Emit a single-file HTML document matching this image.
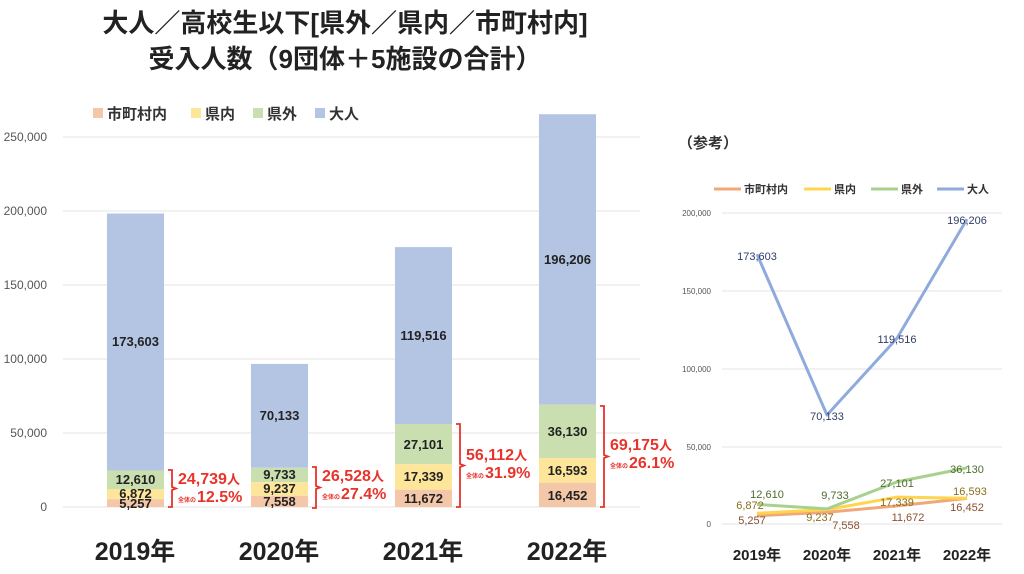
<!DOCTYPE html>
<html><head><meta charset="utf-8"><style>
body{margin:0;background:#fff;}
svg{display:block;font-family:"Liberation Sans","Noto Sans CJK JP",sans-serif;}
</style></head><body>
<svg width="1024" height="574" viewBox="0 0 1024 574">
<text x="345" y="32" text-anchor="middle" font-size="26" font-weight="bold" fill="#222">大人／高校生以下[県外／県内／市町村内]</text>
<text x="345" y="68" text-anchor="middle" font-size="26" font-weight="bold" fill="#222">受入人数（9団体＋5施設の合計）</text>
<!-- left legend -->
<g font-size="15" font-weight="bold" fill="#333">
<rect x="93" y="108" width="10" height="10" fill="#f4c7a8"/><text x="107" y="119">市町村内</text>
<rect x="191" y="108" width="10" height="10" fill="#fde69a"/><text x="205" y="119">県内</text>
<rect x="253" y="108" width="10" height="10" fill="#c9dfb0"/><text x="267" y="119">県外</text>
<rect x="315" y="108" width="10" height="10" fill="#b4c5e4"/><text x="329" y="119">大人</text>
</g>
<!-- left grid -->
<g stroke="#e3e3e3" stroke-width="1">
<line x1="63" x2="640" y1="137" y2="137"/><line x1="63" x2="640" y1="211" y2="211"/><line x1="63" x2="640" y1="285" y2="285"/><line x1="63" x2="640" y1="359" y2="359"/><line x1="63" x2="640" y1="433" y2="433"/><line x1="63" x2="640" y1="507" y2="507"/>
</g>
<g font-size="12" fill="#555" text-anchor="end">
<text x="47" y="141">250,000</text><text x="47" y="215">200,000</text><text x="47" y="289">150,000</text><text x="47" y="363">100,000</text><text x="47" y="437">50,000</text><text x="47" y="511">0</text>
</g>
<!-- bars -->
<g>
<rect x="107" y="213.5" width="57" height="257" fill="#b4c5e4"/><rect x="107" y="470.4" width="57" height="18.6" fill="#c9dfb0"/><rect x="107" y="489" width="57" height="10.2" fill="#fde69a"/><rect x="107" y="499.2" width="57" height="7.8" fill="#f4c7a8"/>
<rect x="251" y="363.9" width="57" height="103.8" fill="#b4c5e4"/><rect x="251" y="467.7" width="57" height="14.4" fill="#c9dfb0"/><rect x="251" y="482.1" width="57" height="13.7" fill="#fde69a"/><rect x="251" y="495.8" width="57" height="11.2" fill="#f4c7a8"/>
<rect x="395" y="247.1" width="57" height="176.9" fill="#b4c5e4"/><rect x="395" y="424" width="57" height="40.1" fill="#c9dfb0"/><rect x="395" y="464.1" width="57" height="25.6" fill="#fde69a"/><rect x="395" y="489.7" width="57" height="17.3" fill="#f4c7a8"/>
<rect x="539" y="114.2" width="57" height="290.4" fill="#b4c5e4"/><rect x="539" y="404.6" width="57" height="53.5" fill="#c9dfb0"/><rect x="539" y="458.1" width="57" height="24.6" fill="#fde69a"/><rect x="539" y="482.7" width="57" height="24.3" fill="#f4c7a8"/>
</g>
<g font-size="13" font-weight="bold" fill="#222" text-anchor="middle">
<text x="135.5" y="346">173,603</text><text x="135.5" y="484">12,610</text><text x="135.5" y="498">6,872</text><text x="135.5" y="508">5,257</text>
<text x="279.5" y="420">70,133</text><text x="279.5" y="479">9,733</text><text x="279.5" y="493">9,237</text><text x="279.5" y="506">7,558</text>
<text x="423.5" y="340">119,516</text><text x="423.5" y="449">27,101</text><text x="423.5" y="481">17,339</text><text x="423.5" y="503">11,672</text>
<text x="567.5" y="264">196,206</text><text x="567.5" y="436">36,130</text><text x="567.5" y="475">16,593</text><text x="567.5" y="500">16,452</text>
</g>
<!-- brackets -->
<g fill="none" stroke="#e8332b" stroke-width="1.8">
<path d="M168,470 h4 v17 l4,1.5 l-4,1.5 v17 h-4"/>
<path d="M312,467 h4 v19 l4,1.5 l-4,1.5 v19 h-4"/>
<path d="M456,424 h4 v40 l4,1.5 l-4,1.5 v40 h-4"/>
<path d="M600,406 h4 v49 l4,1.5 l-4,1.5 v49 h-4"/>
</g>
<g fill="#e8332b" font-weight="bold">
<text x="178" y="484" font-size="16">24,739<tspan font-size="13">人</tspan></text>
<text x="178" y="502" font-size="6">全体の</text><text x="197" y="502" font-size="16">12.5%</text>
<text x="322" y="481" font-size="16">26,528<tspan font-size="13">人</tspan></text>
<text x="322" y="499" font-size="6">全体の</text><text x="341" y="499" font-size="16">27.4%</text>
<text x="466" y="460" font-size="16">56,112<tspan font-size="13">人</tspan></text>
<text x="466" y="478" font-size="6">全体の</text><text x="485" y="478" font-size="16">31.9%</text>
<text x="610" y="450" font-size="16">69,175<tspan font-size="13">人</tspan></text>
<text x="610" y="468" font-size="6">全体の</text><text x="629" y="468" font-size="16">26.1%</text>
</g>
<g font-size="25" font-weight="bold" fill="#222" text-anchor="middle">
<text x="135" y="560">2019年</text><text x="279" y="560">2020年</text><text x="423" y="560">2021年</text><text x="567" y="560">2022年</text>
</g>
<!-- right chart -->
<text x="678" y="148" font-size="15" font-weight="bold" fill="#333">（参考）</text>
<g font-size="11" font-weight="bold" fill="#333">
<line x1="714" x2="741" y1="189" y2="189" stroke="#f0a878" stroke-width="3"/><text x="744" y="193">市町村内</text>
<line x1="804" x2="831" y1="189" y2="189" stroke="#ffd54f" stroke-width="3"/><text x="834" y="193">県内</text>
<line x1="871" x2="898" y1="189" y2="189" stroke="#a9d18e" stroke-width="3"/><text x="901" y="193">県外</text>
<line x1="937" x2="964" y1="189" y2="189" stroke="#8faadc" stroke-width="3"/><text x="967" y="193">大人</text>
</g>
<g stroke="#e3e3e3" stroke-width="1">
<line x1="722" x2="1002" y1="213" y2="213"/><line x1="722" x2="1002" y1="291" y2="291"/><line x1="722" x2="1002" y1="369" y2="369"/><line x1="722" x2="1002" y1="447" y2="447"/><line x1="722" x2="1002" y1="524" y2="524"/>
</g>
<g font-size="8" fill="#555" text-anchor="end">
<text x="711" y="216">200,000</text><text x="711" y="294">150,000</text><text x="711" y="372">100,000</text><text x="711" y="450">50,000</text><text x="711" y="527">0</text>
</g>
<g fill="none" stroke-width="3" stroke-linejoin="round">
<polyline points="757,515.8 827,512.3 897,505.9 967,498.4" stroke="#f0a878"/>
<polyline points="757,513.3 827,509.6 897,497.1 967,498.2" stroke="#ffd54f"/>
<polyline points="757,504.4 827,508.9 897,481.9 967,467.9" stroke="#a9d18e"/>
<polyline points="757,254.2 827,415 897,338.3 967,219.1" stroke="#8faadc"/>
</g>
<g font-size="11" text-anchor="middle">
<g fill="#2f3d66"><text x="757" y="260">173,603</text><text x="827" y="420">70,133</text><text x="897" y="343">119,516</text><text x="967" y="224">196,206</text></g>
<g fill="#4d6b2e"><text x="767" y="498">12,610</text><text x="835" y="499">9,733</text><text x="897" y="487">27,101</text><text x="967" y="473">36,130</text></g>
<g fill="#8a6d1a"><text x="750" y="509">6,872</text><text x="820" y="521">9,237</text><text x="897" y="506">17,339</text><text x="970" y="495">16,593</text></g>
<g fill="#8a5030"><text x="752" y="524">5,257</text><text x="846" y="529">7,558</text><text x="908" y="521">11,672</text><text x="967" y="511">16,452</text></g>
</g>
<g font-size="15" font-weight="bold" fill="#222" text-anchor="middle">
<text x="757" y="560">2019年</text><text x="827" y="560">2020年</text><text x="897" y="560">2021年</text><text x="967" y="560">2022年</text>
</g>
</svg>
</body></html>
